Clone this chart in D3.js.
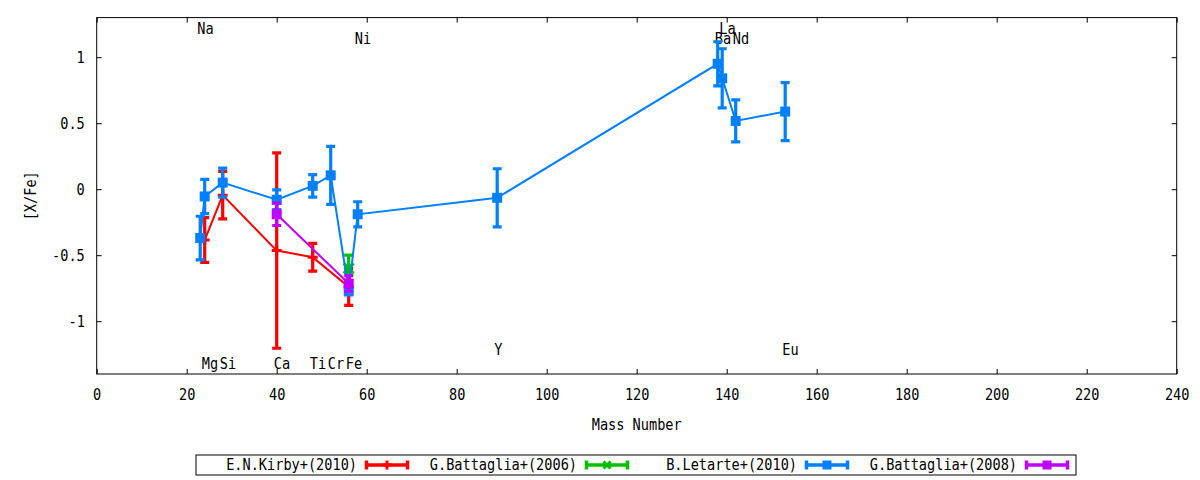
<!DOCTYPE html>
<html>
<head>
<meta charset="utf-8">
<script src="https://cdn.jsdelivr.net/npm/d3@7"></script>
<style>
  body { margin: 0; background: #fff; }
  text { font-family: "DejaVu Sans Mono", monospace; font-size: 16px; fill: #000; }
</style>
</head>
<body>
<script>
// abundance ratios vs mass number

var elements = ["Na", "Mg", "Si", "Ca", "Ti", "Cr", "Fe", "Ni", "Y", "Ba", "La", "Nd", "Eu"];
var masses   = [23, 24, 28, 40, 48, 52, 56, 58, 89, 138, 139, 142, 153];
// height (in [X/Fe]) where each element name is written
var labelLevel = [1.22, -1.32, -1.32, -1.32, -1.32, -1.32, -1.32, 1.145, -1.21, 1.145, 1.22, 1.145, -1.21];

var kirbyMass = [24, 28, 40, 48, 56];
var kirbyVal  = [-0.385, -0.045, -0.465, -0.515, -0.74];
var kirbyErr  = [0.17, 0.18, 0.74, 0.105, 0.14];

var batt06Mass = [56];
var batt06Val  = [-0.6];
var batt06Err  = [0.1];

var letarteMass = masses;
var letarteVal  = [-0.37, -0.055, 0.05, -0.08, 0.025, 0.105, -0.77, -0.19, -0.065, 0.95, 0.84, 0.517, 0.588];
var letarteErr  = [0.165, 0.13, 0.11, 0.075, 0.085, 0.22, 0.03, 0.095, 0.22, 0.167, 0.224, 0.159, 0.22];

var batt08Mass = [40, 56];
var batt08Val  = [-0.19, -0.715];
var batt08Err  = [0.085, 0.06];

var xTicks = d3.range(0, 241, 20);
var yTicks = [-1, -0.5, 0, 0.5, 1];

var series = [
  {name: "E.N.Kirby+(2010)",   color: "#ff0000", marker: "plus",   mass: kirbyMass,   val: kirbyVal,   err: kirbyErr},
  {name: "G.Battaglia+(2006)", color: "#00c000", marker: "cross",  mass: batt06Mass,  val: batt06Val,  err: batt06Err},
  {name: "B.Letarte+(2010)",   color: "#0080ff", marker: "square", mass: letarteMass, val: letarteVal, err: letarteErr},
  {name: "G.Battaglia+(2008)", color: "#c000ff", marker: "square", mass: batt08Mass,  val: batt08Val,  err: batt08Err}
];

var svg = d3.select("body").append("svg")
    .attr("width", 1200)
    .attr("height", 480);

var plotL = 96.7, plotR = 1176.7, plotT = 17.6, plotB = 374;
var squeeze = "scale(0.85,1)";   // the original font is tall and narrow

var x = d3.scaleLinear().domain([0, 240]).range([plotL, plotR]);
var y = d3.scaleLinear().domain([-1.4, 1.3]).range([plotB, plotT]);

function addText(sel, px, py, str, anchor) {
  return sel.append("text")
      .attr("transform", "translate(" + px + "," + py + ") " + squeeze)
      .attr("text-anchor", anchor)
      .text(str);
}

// axes (ticks point inwards, mirrored on top and right)
svg.append("g").attr("transform", "translate(0," + plotB + ")")
    .call(d3.axisBottom(x).tickValues(xTicks).tickSize(-5).tickPadding(15).tickFormat(d3.format("d")));
svg.append("g").attr("transform", "translate(0," + plotT + ")")
    .call(d3.axisTop(x).tickValues(xTicks).tickSize(-5).tickFormat(""));
var ay = svg.append("g").attr("transform", "translate(" + plotL + ",0)")
    .call(d3.axisLeft(y).tickValues(yTicks).tickSize(-5).tickPadding(14).tickFormat(function(d) { return String(d); }));
svg.append("g").attr("transform", "translate(" + plotR + ",0)")
    .call(d3.axisRight(y).tickValues(yTicks).tickSize(-5).tickFormat(""));

svg.selectAll(".domain").remove();
svg.selectAll(".tick line").attr("stroke", "#000");
svg.selectAll(".tick text")
    .attr("font-family", null).attr("font-size", null)
    .attr("transform", squeeze);
ay.selectAll(".tick text").attr("dy", "0.36em");

svg.append("rect")
    .attr("x", plotL).attr("y", plotT)
    .attr("width", plotR - plotL).attr("height", plotB - plotT)
    .attr("fill", "none").attr("stroke", "#000").attr("stroke-width", 1);

addText(svg, (plotL + plotR) / 2, 430, "Mass Number", "middle");
svg.append("text")
    .attr("transform", "translate(36," + (plotT + plotB) / 2 + ") rotate(-90) " + squeeze)
    .attr("text-anchor", "middle")
    .text("[X/Fe]");

// element names
elements.forEach(function(el, i) {
  addText(svg, x(masses[i]) - 3, y(labelLevel[i]) + 5.8, el, "start");
});

function drawMarker(sel, type, px, py, color, size) {
  var h = size / 2;
  if (type == "square") {
    sel.append("rect")
        .attr("x", px - h).attr("y", py - h)
        .attr("width", size).attr("height", size)
        .attr("fill", color);
  } else if (type == "plus") {
    sel.append("path")
        .attr("d", "M" + (px - h) + "," + py + "H" + (px + h) + "M" + px + "," + (py - h) + "V" + (py + h))
        .attr("stroke", color).attr("stroke-width", 3);
  } else {
    sel.append("path")
        .attr("d", "M" + (px - h) + "," + (py - h) + "L" + (px + h) + "," + (py + h) +
                   "M" + (px - h) + "," + (py + h) + "L" + (px + h) + "," + (py - h))
        .attr("stroke", color).attr("stroke-width", 3);
  }
}

var line = d3.line()
    .x(function(d) { return x(d.m); })
    .y(function(d) { return y(d.v); });

var plot = svg.append("g");

series.forEach(function(s) {
  var pts = s.mass.map(function(m, i) { return {m: m, v: s.val[i], e: s.err[i]}; });
  var g = plot.append("g");

  g.append("path")
      .datum(pts)
      .attr("d", line)
      .attr("fill", "none")
      .attr("stroke", s.color)
      .attr("stroke-width", 2);

  pts.forEach(function(d) {
    var px = x(d.m), y0 = y(d.v - d.e), y1 = y(d.v + d.e);
    g.append("path")
        .attr("d", "M" + px + "," + y0 + "V" + y1 +
                   "M" + (px - 4.5) + "," + y0 + "H" + (px + 4.5) +
                   "M" + (px - 4.5) + "," + y1 + "H" + (px + 4.5))
        .attr("fill", "none")
        .attr("stroke", s.color)
        .attr("stroke-width", 3.2);
    drawMarker(g, s.marker, px, y(d.v), s.color, 10);
  });
});

// legend
var legend = svg.append("g");
legend.append("rect")
    .attr("x", 196).attr("y", 455)
    .attr("width", 880).attr("height", 20)
    .attr("fill", "none").attr("stroke", "#000");

series.forEach(function(s, i) {
  var tx = 357 + 220 * i, sx = tx + 8, sy = 465;
  addText(legend, tx, 470, s.name, "end");
  legend.append("path")
      .attr("d", "M" + sx + "," + sy + "H" + (sx + 44) +
                 "M" + (sx + 1.5) + "," + (sy - 4.5) + "V" + (sy + 4.5) +
                 "M" + (sx + 42.5) + "," + (sy - 4.5) + "V" + (sy + 4.5))
      .attr("fill", "none")
      .attr("stroke", s.color)
      .attr("stroke-width", 3.5);
  drawMarker(legend, s.marker, sx + 22, sy, s.color, s.marker == "cross" ? 7 : 9);
});
</script>
</body>
</html>
